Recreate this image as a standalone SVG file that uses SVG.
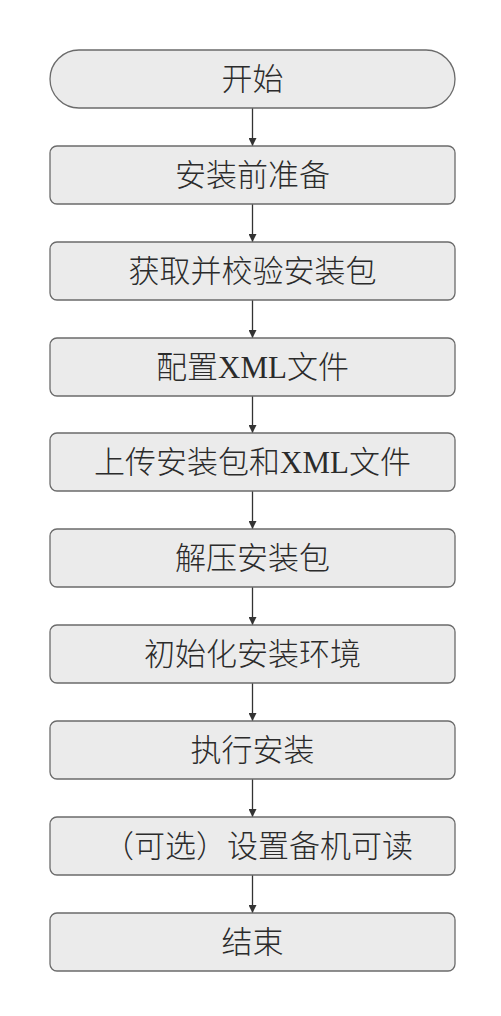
<svg xmlns="http://www.w3.org/2000/svg" width="501" height="1016" viewBox="0 0 501 1016">
<style>
.box{fill:#ebebeb;stroke:#6b6b6b;stroke-width:1.3}
.lbl{font-family:"Liberation Serif","Noto Sans CJK SC",serif;font-size:31px;font-weight:300;fill:#2b2b2b;text-anchor:middle;dominant-baseline:central}
.con{stroke:#333;stroke-width:1.3;fill:none;marker-end:url(#ah)}
</style>
<defs>
<marker id="ah" viewBox="0 0 10 10" refX="10" refY="5" markerWidth="8" markerHeight="8" markerUnits="userSpaceOnUse" orient="auto">
<path d="M0,0 L10,5 L0,10 z" fill="#333"/>
</marker>
</defs>
<rect width="501" height="1016" fill="#fff"/>
<g id="connectors">
<line class="con" x1="252.5" y1="108" x2="252.5" y2="146"/>
<line class="con" x1="252.5" y1="204" x2="252.5" y2="242"/>
<line class="con" x1="252.5" y1="300" x2="252.5" y2="338"/>
<line class="con" x1="252.5" y1="396" x2="252.5" y2="433"/>
<line class="con" x1="252.5" y1="491" x2="252.5" y2="529"/>
<line class="con" x1="252.5" y1="587" x2="252.5" y2="625"/>
<line class="con" x1="252.5" y1="683" x2="252.5" y2="721"/>
<line class="con" x1="252.5" y1="779" x2="252.5" y2="817"/>
<line class="con" x1="252.5" y1="875" x2="252.5" y2="913"/>
</g>
<g id="n1"><rect class="box" x="50" y="50" width="405" height="58" rx="29"/><text class="lbl" x="252.5" y="79">开始</text></g>
<g id="n2"><rect class="box" x="50" y="146" width="405" height="58" rx="7"/><text class="lbl" x="252.5" y="175">安装前准备</text></g>
<g id="n3"><rect class="box" x="50" y="242" width="405" height="58" rx="7"/><text class="lbl" x="252.5" y="271">获取并校验安装包</text></g>
<g id="n4"><rect class="box" x="50" y="338" width="405" height="58" rx="7"/><text class="lbl" x="252.5" y="367">配置XML文件</text></g>
<g id="n5"><rect class="box" x="50" y="433" width="405" height="58" rx="7"/><text class="lbl" x="252.5" y="462">上传安装包和XML文件</text></g>
<g id="n6"><rect class="box" x="50" y="529" width="405" height="58" rx="7"/><text class="lbl" x="252.5" y="558">解压安装包</text></g>
<g id="n7"><rect class="box" x="50" y="625" width="405" height="58" rx="7"/><text class="lbl" x="252.5" y="654">初始化安装环境</text></g>
<g id="n8"><rect class="box" x="50" y="721" width="405" height="58" rx="7"/><text class="lbl" x="252.5" y="750">执行安装</text></g>
<g id="n9"><rect class="box" x="50" y="817" width="405" height="58" rx="7"/><text class="lbl" x="258" y="846">（可选）设置备机可读</text></g>
<g id="n10"><rect class="box" x="50" y="913" width="405" height="58" rx="7"/><text class="lbl" x="252.5" y="942">结束</text></g>
</svg>
